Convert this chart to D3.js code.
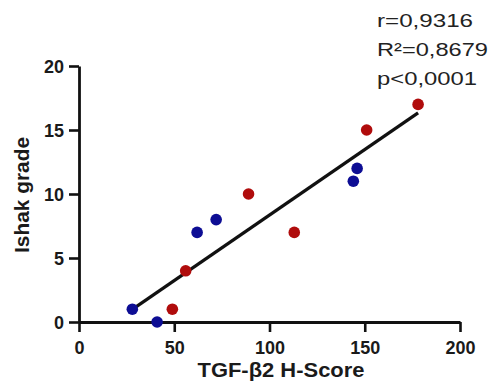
<!DOCTYPE html>
<html>
<head>
<meta charset="utf-8">
<script src="https://cdn.jsdelivr.net/npm/d3@7"></script>
<style>
  html, body { margin: 0; padding: 0; background: #fff; }
  svg { display: block; }
  text { font-family: "Liberation Sans", Arial, sans-serif; }
</style>
</head>
<body>
<svg id="chart" width="498" height="384"></svg>
<script>
// Data
const blueX = [28, 41, 62, 72, 144, 146];
const blueY = [1, 0, 7, 8, 11, 12];
const redX = [49, 56, 89, 113, 151, 178];
const redY = [1, 4, 10, 7, 15, 17];
const xTicks = [0, 50, 100, 150, 200];
const yTicks = [0, 5, 10, 15, 20];
const statsLines = ["r=0,9316", "R\u00B2=0,8679", "p<0,0001"];
const xTitle = "TGF-\u03B22 H-Score";
const yTitle = "Ishak grade";

const svg = d3.select("#chart");
const x = d3.scaleLinear().domain([0, 200]).range([79, 460]);
const y = d3.scaleLinear().domain([0, 20]).range([322, 66]);

// Axes
const xAxis = svg.append("g").attr("transform", `translate(0,${y(0)})`)
  .call(d3.axisBottom(x).tickValues(xTicks).tickSize(10).tickSizeOuter(0).tickPadding(4));
const yAxis = svg.append("g").attr("transform", `translate(${x(0)},0)`)
  .call(d3.axisLeft(y).tickValues(yTicks).tickSize(10).tickSizeOuter(0).tickPadding(5));
[xAxis, yAxis].forEach(g => {
  g.select(".domain").attr("stroke", "#111").attr("stroke-width", 2.8);
  g.selectAll(".tick line").attr("stroke", "#111").attr("stroke-width", 2.6);
  g.selectAll(".tick text").attr("fill", "#1a1a1a")
    .style("font-size", "18px").style("font-weight", "bold")
    .style("font-family", "'Liberation Sans', Arial, sans-serif");
});
xAxis.selectAll(".tick text").attr("dy", "1.0em");
yAxis.selectAll(".tick text").attr("dy", "0.36em");

// Regression line (least squares over all points)
const allX = blueX.concat(redX), allY = blueY.concat(redY);
const mx = d3.mean(allX), my = d3.mean(allY);
const sxy = d3.sum(allX.map((v, i) => (v - mx) * (allY[i] - my)));
const sxx = d3.sum(allX.map(v => (v - mx) * (v - mx)));
const slope = sxy / sxx, icpt = my - slope * mx;
const x0 = d3.min(allX), x1 = d3.max(allX);
svg.append("line")
  .attr("x1", x(x0)).attr("y1", y(icpt + slope * x0))
  .attr("x2", x(x1)).attr("y2", y(icpt + slope * x1))
  .attr("stroke", "#111").attr("stroke-width", 3.2);

// Points
const pts = blueX.map((v, i) => ({x: v, y: blueY[i], c: "#0d0d94"}))
  .concat(redX.map((v, i) => ({x: v, y: redY[i], c: "#b00c0c"})));
svg.append("g").selectAll("circle").data(pts).join("circle")
  .attr("cx", d => x(d.x)).attr("cy", d => y(d.y)).attr("r", 5.8)
  .attr("fill", d => d.c);

// Axis titles
svg.append("text").attr("x", 281).attr("y", 377).attr("text-anchor", "middle")
  .style("font-size", "20px").style("font-weight", "bold").attr("fill", "#1a1a1a")
  .attr("textLength", 167).attr("lengthAdjust", "spacingAndGlyphs")
  .text(xTitle);
svg.append("text").attr("transform", "translate(29,195) rotate(-90)").attr("text-anchor", "middle")
  .style("font-size", "20px").style("font-weight", "bold").attr("fill", "#1a1a1a")
  .attr("textLength", 116).attr("lengthAdjust", "spacingAndGlyphs")
  .text(yTitle);

// Stats text
const statsW = [96, 111, 100];
svg.append("g").selectAll("text").data(statsLines).join("text")
  .attr("x", 377).attr("y", (d, i) => 27 + i * 29)
  .style("font-size", "19px").attr("fill", "#222")
  .attr("textLength", (d, i) => statsW[i]).attr("lengthAdjust", "spacingAndGlyphs")
  .text(d => d);
</script>
</body>
</html>
